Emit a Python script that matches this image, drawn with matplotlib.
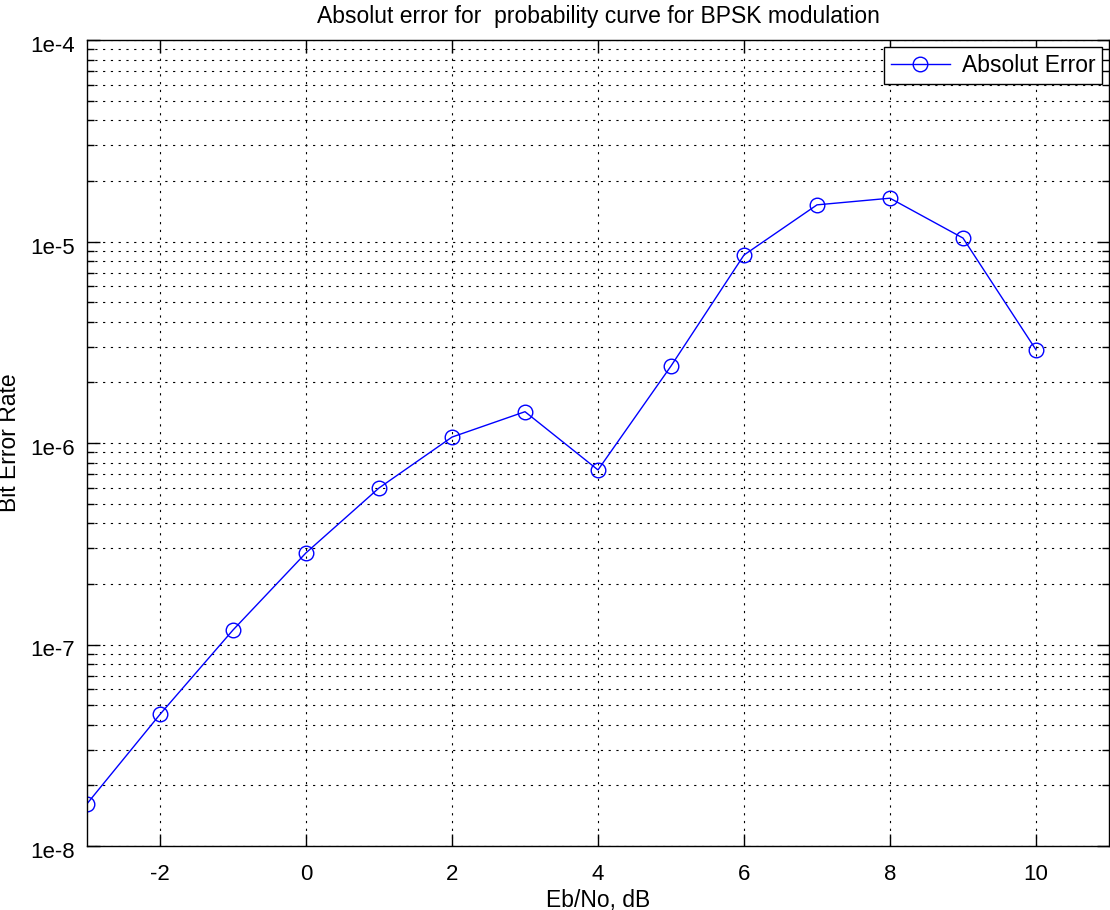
import numpy as np
import matplotlib
matplotlib.use("Agg")
import matplotlib.pyplot as plt
import matplotlib.transforms as mtransforms
from matplotlib.ticker import LogLocator, NullFormatter

plt.rcParams['font.family'] = ['Liberation Sans', 'DejaVu Sans']
plt.rcParams['axes.unicode_minus'] = False

# data
ebno = [-3, -2, -1, 0, 1, 2, 3, 4, 5, 6, 7, 8, 9, 10]
abs_err = [1.62e-8, 4.5e-8, 1.18e-7, 2.85e-7, 5.98e-7, 1.07e-6, 1.43e-6,
           7.35e-7, 2.41e-6, 8.57e-6, 1.52e-5, 1.64e-5, 1.04e-5, 2.90e-6]
xticks = [-2, 0, 2, 4, 6, 8, 10]
yticks = [1e-8, 1e-7, 1e-6, 1e-5, 1e-4]
ytick_labels = ['1e-8', '1e-7', '1e-6', '1e-5', '1e-4']

fig = plt.figure(figsize=(11.1, 9.1), dpi=100)
ax = fig.add_axes([87 / 1110, 1 - 846 / 910, (1109 - 87) / 1110, (846 - 40) / 910])

ax.semilogy(ebno, abs_err, '-o', color='blue', lw=1.0, ms=10.5,
            markerfacecolor='none', markeredgewidth=1.0, label='Absolut Error')

ax.set_xlim(-3, 11)
ax.set_ylim(1e-8, 1e-4)
ax.set_xticks(xticks)
ax.set_yticks(yticks)
ax.set_yticklabels(ytick_labels)
ax.yaxis.set_minor_locator(LogLocator(base=10, subs=np.arange(2, 10)))
ax.yaxis.set_minor_formatter(NullFormatter())

ax.grid(True, which='major', color='black', linestyle=(0, (2, 5)), lw=0.8)
ax.grid(True, which='minor', axis='y', color='black', linestyle=(0, (2, 5)), lw=0.8)

ax.tick_params(which='both', direction='in', top=True, right=True, labelsize=16)
ax.tick_params(which='major', length=9, width=1)
ax.tick_params(axis='x', which='major', pad=13)
ax.tick_params(axis='y', which='major', pad=9)
ax.tick_params(which='minor', length=5, width=1)
# nudge y tick labels down a little, like the reference
shift = mtransforms.ScaledTranslation(0, -4 / 100, fig.dpi_scale_trans)
for lab in ax.get_yticklabels():
    lab.set_transform(lab.get_transform() + shift)
for s in ax.spines.values():
    s.set_linewidth(1.0)

ax.set_title('Absolut error for  probability curve for BPSK modulation', fontsize=16.5, pad=12)
ax.set_xlabel('Eb/No, dB', fontsize=16.5, labelpad=3)
ax.set_ylabel('Bit Error Rate', fontsize=16.5)
ax.yaxis.set_label_coords((21 - 87) / 1022, 0.5)

leg = ax.legend(loc='upper right', fontsize=16.5, fancybox=False, framealpha=1,
                edgecolor='black', borderaxespad=0.3, borderpad=0.3,
                handlelength=2.6, handletextpad=0.5)
leg.get_frame().set_linewidth(1.0)

fig.savefig('out.png', dpi=100)
